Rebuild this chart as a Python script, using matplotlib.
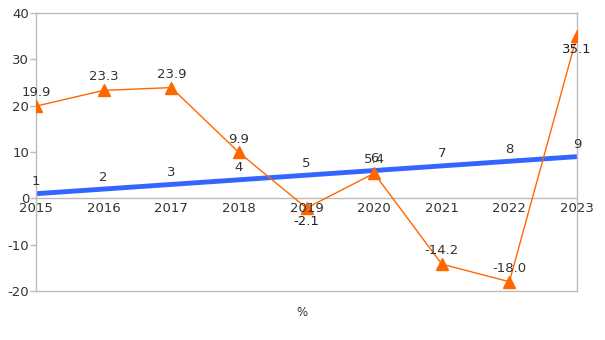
import matplotlib.pyplot as plt

plt.rcParams["axes.unicode_minus"] = False

years = ["2015", "2016", "2017", "2018", "2019", "2020", "2021", "2022", "2023"]
index_values = [1, 2, 3, 4, 5, 6, 7, 8, 9]
pct_values = [19.9, 23.3, 23.9, 9.9, -2.1, 5.4, -14.2, -18.0, 35.1]
y_ticks = [-20, -10, 0, 10, 20, 30, 40]

grey = "#bbbbbb"
text_color = "#333333"
blue = "#3366ff"
orange = "#ff6600"

fig = plt.figure(figsize=(6.05, 3.4), dpi=100)
ax = fig.add_axes([36 / 605, 1 - 291 / 340, 541 / 605, 278 / 340])

x = list(range(len(years)))

# blue index line with labels above each point
ax.plot(x, index_values, color=blue, linewidth=3.5, solid_capstyle="butt", zorder=2)
for xi, v in zip(x, index_values):
    ax.annotate(str(v), (xi, v), xytext=(0, 4), textcoords="offset points",
                ha="center", va="bottom", fontsize=9.5, color=text_color)

# orange percentage line with triangle markers
ax.plot(x, pct_values, color=orange, linewidth=1, marker="^", markersize=8, zorder=3)
for xi, v in zip(x, pct_values):
    below = -5 < v < 0 or v > 30
    if below:
        ax.annotate(f"{v:.1f}", (xi, v), xytext=(0, -5), textcoords="offset points",
                    ha="center", va="top", fontsize=9.5, color="#222222")
    else:
        ax.annotate(f"{v:.1f}", (xi, v), xytext=(0, 5), textcoords="offset points",
                    ha="center", va="bottom", fontsize=9.5, color=text_color)

# zero line with category labels hanging from it
ax.axhline(0, color=grey, linewidth=1, zorder=1)
for xi, label in zip(x, years):
    ax.annotate(label, (xi, 0), xytext=(0, -3), textcoords="offset points",
                ha="center", va="top", fontsize=9.5, color=text_color)

ax.set_xlim(0, len(years) - 1)
ax.set_ylim(-20, 40)
ax.set_yticks(y_ticks)
ax.set_xticks([])
ax.tick_params(axis="y", colors=grey, labelcolor=text_color, labelsize=9.5,
               length=4, width=1, pad=1)
for spine in ax.spines.values():
    spine.set_color(grey)
    spine.set_linewidth(1)

fig.text(302 / 605, 1 - 312 / 340, "%", ha="center", va="center",
         fontsize=8.5, color=text_color)

fig.savefig("out.png", dpi=100)
